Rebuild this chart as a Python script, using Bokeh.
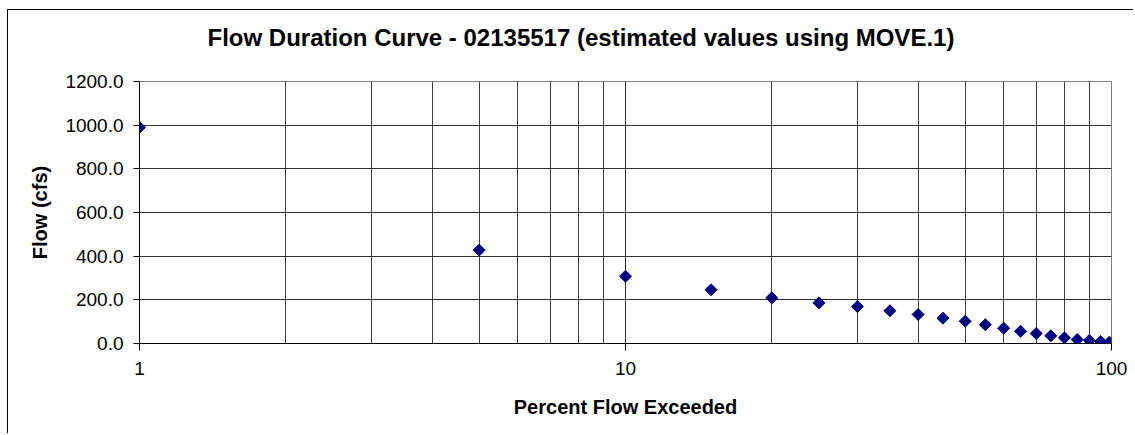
import math
from bokeh.plotting import figure
from bokeh.models import Range1d, FixedTicker, NumeralTickFormatter, Title, LinearAxis
from bokeh.embed import file_html
from bokeh.resources import INLINE

# ---- data ----
percent_exceeded = [1, 5, 10, 15, 20, 25, 30, 35, 40, 45, 50, 55, 60, 65, 70, 75, 80, 85, 90, 95, 99]
flow_cfs = [990, 428, 308, 246, 209, 186, 169, 150, 133, 116, 102, 86, 70, 56, 46, 35, 26, 18, 14, 9, 6]

x_major_ticks = [1, 10, 100]
x_major_labels = ["1", "10", "100"]
x_minor_ticks = [2, 3, 4, 5, 6, 7, 8, 9, 20, 30, 40, 50, 60, 70, 80, 90]
y_ticks = [0, 200, 400, 600, 800, 1000, 1200]

title_text = "Flow Duration Curve - 02135517 (estimated values using MOVE.1)"
x_label = "Percent Flow Exceeded"
y_label = "Flow (cfs)"

FONT = "Liberation Sans"

p = figure(width=1126, height=424, x_axis_type="log",
           x_range=Range1d(1, 100), y_range=Range1d(0, 1200),
           output_backend="svg", toolbar_location=None,
           min_border_left=131, min_border_right=23,
           min_border_top=71, min_border_bottom=91)

p.background_fill_color = "#ffffff"
p.border_fill_color = "#ffffff"
p.outline_line_color = "#808080"
p.outline_line_width = 1
p.styles = {"border-left": "1px solid #000000", "border-top": "1px solid #000000",
            "margin-left": "7px", "margin-top": "9px"}

# main axes (grab them before adding anything else)
xa = p.below[0]
ya = p.left[0]

# white spacer axis between plot area and title (one white tick, empty label, no line)
spacer = LinearAxis(ticker=FixedTicker(ticks=[x_major_ticks[0]]), axis_line_color=None,
                    major_tick_line_color="#ffffff", minor_tick_line_color=None,
                    major_tick_in=0, major_tick_out=26, minor_tick_in=0, minor_tick_out=0,
                    major_label_standoff=0, major_label_text_font_size="0px",
                    major_label_text_color="#ffffff",
                    major_label_overrides={x_major_ticks[0]: ""})
p.add_layout(spacer, "above")
p.add_layout(Title(text=title_text, align="left", offset=68, standoff=10,
                   text_font=FONT, text_font_size="24px", text_font_style="bold",
                   text_color="#000000"), "above")

xa.ticker = FixedTicker(ticks=x_major_ticks, minor_ticks=x_minor_ticks)
xa.major_label_overrides = {t: l for t, l in zip(x_major_ticks, x_major_labels)}
xa.axis_label = x_label
ya.ticker = FixedTicker(ticks=y_ticks)
ya.formatter = NumeralTickFormatter(format="0.0")
ya.axis_label = y_label

for ax in (xa, ya):
    ax.axis_line_color = "#000000"
    ax.axis_line_width = 1
    ax.major_tick_line_color = "#000000"
    ax.major_tick_in = 0
    ax.minor_tick_in = 0
    ax.minor_tick_out = 0
    ax.major_label_text_font = FONT
    ax.major_label_text_font_size = "19px"
    ax.major_label_text_color = "#000000"
    ax.axis_label_text_font = FONT
    ax.axis_label_text_font_size = "20px"
    ax.axis_label_text_font_style = "bold"
    ax.axis_label_text_color = "#000000"

xa.major_tick_out = 7
xa.major_label_standoff = 11
xa.axis_label_standoff = 18
ya.major_tick_out = 6
ya.major_label_standoff = 10
ya.axis_label_standoff = 11

# grid
p.xgrid.ticker = xa.ticker
p.xgrid.grid_line_color = "#1a1a1a"
p.xgrid.grid_line_alpha = 0.9
p.xgrid.minor_grid_line_color = "#1a1a1a"
p.xgrid.minor_grid_line_alpha = 0.85
p.ygrid.ticker = ya.ticker
p.ygrid.grid_line_color = "#1a1a1a"
p.ygrid.grid_line_alpha = 0.9

p.scatter(percent_exceeded, flow_cfs, marker="square", size=8.5, angle=math.pi / 4,
          fill_color="#000080", line_color="#000080")

open("out.html", "w").write(file_html(p, INLINE))
